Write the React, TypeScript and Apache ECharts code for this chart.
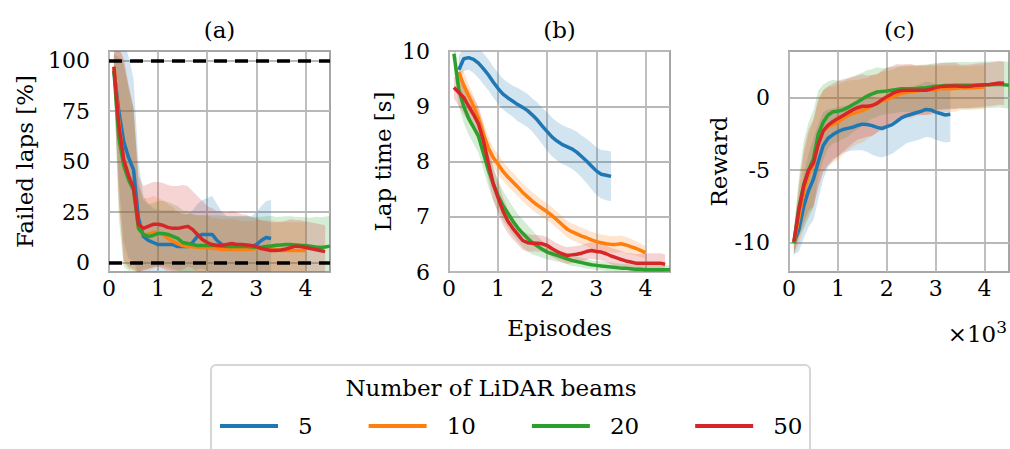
import React, { useEffect, useRef } from "react";
import * as echarts from "echarts";

// Training episodes (×10³) shared by every run
const EPISODES = [
  0.1, 0.2, 0.3, 0.4, 0.5, 0.6, 0.7, 0.8, 0.9, 1.0,
  1.1, 1.2, 1.3, 1.4, 1.5, 1.6, 1.7, 1.8, 1.9, 2.0,
  2.1, 2.2, 2.3, 2.4, 2.5, 2.6, 2.7, 2.8, 2.9, 3.0,
  3.1, 3.2, 3.3, 3.4, 3.5, 3.6, 3.7, 3.8, 3.9, 4.0,
  4.1, 4.2, 4.3, 4.4, 4.5,
];

const BEAMS = ["5", "10", "20", "50"];
const COLORS = ["#1f77b4", "#ff7f0e", "#2ca02c", "#d62728"];

const X_TICKS = [0, 1, 2, 3, 4];
const FAILED_TICKS = [0, 25, 50, 75, 100];
const LAP_TICKS = [6, 7, 8, 9, 10];
const REWARD_TICKS = [-10, -5, 0];

// (a) failed laps [%] — mean and half-width of the shaded band
const failed5 = [95, 75, 60, 52, 46, 22, 13, 11, 10, 9, 9, 9, 9, 8, 8, 8, 10, 13, 14, 14, 14, 11, 9, 8, 8, 8, 8, 8, 8, 9, 11, 12.5, 12];
const failed10 = [97, 70, 50, 42, 36, 17, 14, 14, 15, 15, 14, 12, 10.5, 9.5, 8.5, 8, 8, 7.5, 7.5, 7.5, 7, 7, 6.5, 6.5, 6.5, 6.5, 6.5, 6.5, 6.5, 7, 7, 7, 7, 6.5, 6, 6, 6, 6, 6, 6];
const failed20 = [95, 62, 48, 41, 36, 17, 14, 13, 13.5, 14.5, 14.5, 14, 13, 12, 10, 9.5, 9, 8.5, 8.5, 8.5, 8.5, 8.5, 8.3, 8, 8, 8, 8, 8, 7.8, 7.7, 7.7, 8, 8.3, 8.6, 8.8, 9, 9, 8.8, 8.6, 8.5, 8.2, 7.8, 7.5, 7.8, 8.2];
const failed50 = [97, 68, 51, 43, 37, 19, 17, 18, 19, 19, 18.5, 17.5, 17, 17, 17.5, 18, 16.5, 14, 11.5, 10, 9, 8.5, 8.5, 9, 9.5, 9, 9, 8.8, 8.5, 8, 7, 6.5, 6, 6, 6.3, 6.8, 7.5, 8.2, 8, 7.5, 7, 6.5, 6, 5.5];
const failed5Spread = [8, 35, 50, 50, 45, 28, 20, 18, 17, 17, 17, 17, 17, 17, 16, 16, 16, 16, 17, 18, 19, 18, 16, 15, 15, 15, 15, 15, 15, 16, 17, 18, 19];
const failed10Spread = [8, 38, 50, 45, 40, 22, 18, 18, 18, 17, 17, 17, 17, 16, 16, 16, 16, 16, 16, 16, 15, 15, 15, 15, 15, 15, 14, 14, 14, 14, 14, 14, 14, 14, 14, 14, 14, 14, 14, 14];
const failed20Spread = [8, 40, 50, 45, 40, 22, 17, 16, 16, 16, 16, 16, 16, 16, 16, 16, 15, 15, 15, 15, 15, 15, 15, 15, 15, 15, 15, 15, 15, 15, 15, 15, 15, 14, 14, 14, 14, 14, 14, 14, 14, 15, 15, 15, 15];
const failed50Spread = [8, 38, 50, 45, 40, 24, 21, 21, 21, 21, 21, 21, 21, 21, 21, 20, 19, 19, 19, 18, 18, 17, 17, 16, 16, 16, 15, 15, 14, 14, 14, 14, 14, 14, 14, 14, 14, 13, 13, 13, 13, 13, 13, 13];

// (b) lap time [s]
const lap5 = [null, 9.66, 9.86, 9.88, 9.85, 9.78, 9.68, 9.57, 9.44, 9.32, 9.22, 9.15, 9.09, 9.03, 8.98, 8.92, 8.84, 8.75, 8.64, 8.54, 8.44, 8.37, 8.31, 8.27, 8.23, 8.17, 8.09, 8.01, 7.92, 7.83, 7.77, 7.75, 7.73];
const lap10 = [null, 9.62, 9.38, 9.18, 9.0, 8.78, 8.5, 8.25, 8.07, 7.95, 7.82, 7.72, 7.63, 7.54, 7.44, 7.36, 7.28, 7.21, 7.15, 7.09, 7.02, 6.94, 6.86, 6.78, 6.73, 6.69, 6.65, 6.62, 6.58, 6.55, 6.53, 6.51, 6.5, 6.5, 6.51, 6.49, 6.46, 6.43, 6.39, 6.35];
const lap20 = [9.95, 9.3, 9.0, 8.78, 8.62, 8.46, 8.15, 7.85, 7.6, 7.38, 7.2, 7.06, 6.92, 6.8, 6.7, 6.61, 6.53, 6.47, 6.41, 6.36, 6.33, 6.3, 6.27, 6.24, 6.21, 6.19, 6.17, 6.15, 6.13, 6.12, 6.11, 6.1, 6.09, 6.08, 6.07, 6.07, 6.06, 6.05, 6.05, 6.04, 6.04, 6.04, 6.04, 6.04, 6.04];
const lap50 = [9.34, 9.25, 9.16, 9.0, 8.85, 8.68, 8.38, 7.98, 7.6, 7.34, 7.1, 6.92, 6.79, 6.68, 6.57, 6.53, 6.52, 6.52, 6.51, 6.48, 6.42, 6.37, 6.33, 6.3, 6.31, 6.32, 6.34, 6.37, 6.39, 6.37, 6.36, 6.33, 6.29, 6.26, 6.23, 6.2, 6.18, 6.16, 6.16, 6.16, 6.16, 6.16, 6.16, 6.14];
const lap5Spread = [null, 0.25, 0.22, 0.22, 0.25, 0.27, 0.28, 0.28, 0.28, 0.28, 0.28, 0.28, 0.28, 0.3, 0.3, 0.3, 0.3, 0.32, 0.33, 0.35, 0.35, 0.35, 0.35, 0.35, 0.36, 0.37, 0.38, 0.4, 0.42, 0.43, 0.44, 0.45, 0.45];
const lap10Spread = [null, 0.25, 0.25, 0.22, 0.2, 0.2, 0.2, 0.2, 0.18, 0.18, 0.17, 0.17, 0.17, 0.16, 0.16, 0.16, 0.16, 0.16, 0.15, 0.15, 0.15, 0.15, 0.15, 0.15, 0.15, 0.15, 0.15, 0.15, 0.15, 0.15, 0.15, 0.15, 0.15, 0.15, 0.15, 0.15, 0.14, 0.13, 0.12, 0.12];
const lap20Spread = [0.3, 0.3, 0.3, 0.3, 0.3, 0.3, 0.3, 0.3, 0.3, 0.28, 0.27, 0.26, 0.26, 0.25, 0.25, 0.24, 0.22, 0.18, 0.15, 0.13, 0.12, 0.11, 0.1, 0.1, 0.1, 0.09, 0.09, 0.09, 0.08, 0.08, 0.08, 0.08, 0.08, 0.08, 0.08, 0.08, 0.08, 0.08, 0.08, 0.08, 0.08, 0.08, 0.08, 0.08, 0.08];
const lap50Spread = [0.2, 0.25, 0.3, 0.3, 0.3, 0.3, 0.3, 0.3, 0.3, 0.28, 0.25, 0.22, 0.2, 0.18, 0.17, 0.16, 0.15, 0.15, 0.15, 0.15, 0.15, 0.15, 0.15, 0.15, 0.15, 0.15, 0.15, 0.15, 0.15, 0.15, 0.15, 0.15, 0.15, 0.15, 0.15, 0.15, 0.16, 0.16, 0.17, 0.17, 0.18, 0.18, 0.18, 0.18];

// (c) reward
const reward5 = [-10.0, -9.1, -7.5, -6.4, -5.6, -4.4, -3.3, -2.8, -2.55, -2.35, -2.2, -2.12, -2.05, -1.92, -1.83, -1.85, -1.93, -2.05, -2.13, -2.0, -1.88, -1.65, -1.4, -1.25, -1.15, -1.05, -0.95, -0.82, -0.85, -1.0, -1.1, -1.2, -1.15];
const reward10 = [-10.0, -8.3, -6.5, -5.3, -4.6, -3.0, -2.3, -2.0, -1.85, -1.7, -1.45, -1.25, -1.1, -1.0, -0.9, -0.75, -0.55, -0.4, -0.25, -0.15, 0.0, 0.15, 0.3, 0.35, 0.4, 0.45, 0.5, 0.5, 0.5, 0.55, 0.6, 0.6, 0.6, 0.62, 0.65, 0.65, 0.65, 0.68, 0.7, 0.72];
const reward20 = [-10.0, -7.6, -6.0, -5.0, -4.2, -2.5, -1.7, -1.2, -0.98, -0.95, -0.85, -0.7, -0.5, -0.3, -0.1, 0.1, 0.25, 0.38, 0.42, 0.45, 0.5, 0.55, 0.6, 0.6, 0.6, 0.62, 0.65, 0.68, 0.72, 0.78, 0.8, 0.82, 0.82, 0.84, 0.85, 0.85, 0.85, 0.85, 0.87, 0.88, 0.88, 0.9, 0.92, 0.88, 0.85];
const reward50 = [-9.9, -7.8, -6.1, -5.0, -4.5, -3.2, -2.3, -1.9, -1.65, -1.45, -1.25, -1.05, -0.85, -0.7, -0.6, -0.6, -0.55, -0.4, -0.15, 0.05, 0.25, 0.4, 0.48, 0.5, 0.5, 0.5, 0.5, 0.5, 0.58, 0.68, 0.75, 0.78, 0.8, 0.8, 0.78, 0.76, 0.78, 0.82, 0.85, 0.88, 0.9, 0.95, 1.0, 0.98];
const reward5Spread = [0.8, 1.5, 2.2, 2.5, 2.8, 2.6, 2.3, 2.0, 1.8, 1.7, 1.6, 1.6, 1.6, 1.7, 1.8, 1.9, 2.0, 2.0, 2.0, 2.0, 2.0, 2.0, 2.0, 1.9, 1.9, 1.9, 1.9, 1.9, 1.9, 1.9, 1.9, 1.9, 1.9];
const reward10Spread = [0.8, 1.8, 2.5, 2.8, 3.0, 3.0, 2.8, 2.7, 2.6, 2.6, 2.5, 2.4, 2.3, 2.2, 2.2, 2.1, 2.1, 2.0, 2.0, 2.0, 1.9, 1.9, 1.8, 1.8, 1.8, 1.7, 1.7, 1.7, 1.7, 1.6, 1.6, 1.6, 1.6, 1.6, 1.5, 1.5, 1.5, 1.5, 1.5, 1.5];
const reward20Spread = [0.8, 2.0, 3.0, 3.3, 3.3, 3.0, 2.6, 2.3, 2.2, 2.1, 2.0, 2.0, 1.9, 1.9, 1.8, 1.8, 1.7, 1.7, 1.6, 1.6, 1.6, 1.6, 1.6, 1.6, 1.6, 1.6, 1.6, 1.6, 1.6, 1.6, 1.6, 1.6, 1.6, 1.6, 1.6, 1.6, 1.6, 1.6, 1.6, 1.6, 1.6, 1.6, 1.6, 1.6, 1.6];
const reward50Spread = [0.8, 1.8, 2.5, 2.8, 3.0, 3.0, 2.8, 2.7, 2.6, 2.6, 2.5, 2.4, 2.3, 2.2, 2.2, 2.1, 2.1, 2.0, 2.0, 2.0, 1.9, 1.9, 1.8, 1.8, 1.8, 1.7, 1.7, 1.7, 1.7, 1.6, 1.6, 1.6, 1.6, 1.6, 1.5, 1.5, 1.5, 1.5, 1.5, 1.5, 1.5, 1.5, 1.5, 1.5];

const FONT = "DejaVu Serif";
const TICK_SIZE = 22;
const NAME_SIZE = 23;

type Panel = {
  title: string;
  name: string;
  nameGap: number;
  yMin: number;
  yMax: number;
  yTicks: number[];
  means: (number | null)[][];
  spreads: (number | null)[][];
};

const PANELS: Panel[] = [
  {
    title: "(a)", name: "Failed laps [%]", nameGap: 73, yMin: -4.6, yMax: 104.8, yTicks: FAILED_TICKS,
    means: [failed5, failed10, failed20, failed50],
    spreads: [failed5Spread, failed10Spread, failed20Spread, failed50Spread],
  },
  {
    title: "(b)", name: "Lap time [s]", nameGap: 55, yMin: 6, yMax: 10, yTicks: LAP_TICKS,
    means: [lap5, lap10, lap20, lap50],
    spreads: [lap5Spread, lap10Spread, lap20Spread, lap50Spread],
  },
  {
    title: "(c)", name: "Reward", nameGap: 56, yMin: -12, yMax: 3.2, yTicks: REWARD_TICKS,
    means: [reward5, reward10, reward20, reward50],
    spreads: [reward5Spread, reward10Spread, reward20Spread, reward50Spread],
  },
];

const GRID_LEFTS = [109, 449, 789];
const GRID_TOP = 51;
const GRID_SIZE = 221;

function meanPoints(mean: (number | null)[]) {
  const pts: number[][] = [];
  mean.forEach((v, i) => {
    if (v != null) pts.push([EPISODES[i], v]);
  });
  return pts;
}

function bandRows(mean: (number | null)[], spread: (number | null)[]) {
  const rows: number[][] = [];
  mean.forEach((v, i) => {
    const s = spread[i];
    if (v != null && s != null) rows.push([EPISODES[i], v - s, v + s]);
  });
  return rows;
}

function buildOption() {
  const grid = GRID_LEFTS.map((left, p) => ({
    left,
    top: GRID_TOP,
    width: p === 2 ? 220 : GRID_SIZE,
    height: GRID_SIZE,
    show: true,
    borderColor: "#a6a6a6",
    borderWidth: 2,
    backgroundColor: "transparent",
  }));

  const splitLine = { show: true, lineStyle: { color: "#b8b8b8", width: 1.8 } };
  const labelStyle = { fontSize: TICK_SIZE, fontFamily: FONT, color: "#000" };

  const xAxis = PANELS.map((_, p) => ({
    gridIndex: p,
    type: "value",
    min: 0,
    max: 4.5,
    axisLine: { show: false },
    axisTick: { show: false, customValues: X_TICKS },
    axisLabel: { ...labelStyle, customValues: X_TICKS, margin: 5 },
    splitLine,
    name: p === 1 ? "Episodes" : "",
    nameLocation: "middle",
    nameGap: 44,
    nameTextStyle: { fontSize: NAME_SIZE, fontFamily: FONT, color: "#000" },
  }));

  const yAxis = PANELS.map((panel, p) => ({
    gridIndex: p,
    type: "value",
    min: panel.yMin,
    max: panel.yMax,
    axisLine: { show: false },
    axisTick: { show: false, customValues: panel.yTicks },
    axisLabel: { ...labelStyle, customValues: panel.yTicks, margin: 19 },
    splitLine,
    name: panel.name,
    nameLocation: "middle",
    nameGap: panel.nameGap,
    nameTextStyle: { fontSize: NAME_SIZE, fontFamily: FONT, color: "#000" },
  }));

  const series: any[] = [];
  PANELS.forEach((panel, p) => {
    // shaded spread bands first, so every mean line sits above them
    panel.means.forEach((mean, k) => {
      const rows = bandRows(mean, panel.spreads[k]);
      series.push({
        type: "custom",
        xAxisIndex: p,
        yAxisIndex: p,
        clip: true,
        silent: true,
        z: 2,
        encode: { x: 0, y: [1, 2] },
        data: rows,
        renderItem: (params: any, api: any) => {
          if (params.dataIndex !== 0) return null;
          const upper = rows.map((r) => api.coord([r[0], r[2]]));
          const lower = rows.map((r) => api.coord([r[0], r[1]])).reverse();
          return {
            type: "polygon",
            shape: { points: upper.concat(lower) },
            style: { fill: COLORS[k], opacity: 0.2 },
          };
        },
      });
    });
    panel.means.forEach((mean, k) => {
      const s: any = {
        type: "line",
        name: BEAMS[k],
        xAxisIndex: p,
        yAxisIndex: p,
        data: meanPoints(mean),
        showSymbol: false,
        symbol: "none",
        color: COLORS[k],
        lineStyle: { color: COLORS[k], width: 3.5 },
        z: 3,
        silent: true,
      };
      if (p === 0 && k === 0) {
        // reference levels at 0 % and 100 %
        s.markLine = {
          silent: true,
          symbol: "none",
          label: { show: false },
          lineStyle: { color: "#000", type: [13, 8], width: 3.5 },
          data: [{ yAxis: 0 }, { yAxis: 100 }],
        };
      }
      series.push(s);
    });
  });

  const titles = PANELS.map((panel, p) => ({
    type: "text",
    x: GRID_LEFTS[p] + GRID_SIZE / 2,
    y: 30,
    style: {
      text: panel.title,
      fontSize: NAME_SIZE,
      fontFamily: FONT,
      fill: "#000",
      align: "center",
      verticalAlign: "middle",
    },
  }));

  return {
    animation: false,
    backgroundColor: "#fff",
    textStyle: { fontFamily: FONT },
    grid,
    xAxis,
    yAxis,
    series,
    legend: {
      data: BEAMS.map((name) => ({ name, icon: "rect" })),
      left: 220,
      top: 412,
      padding: 0,
      itemWidth: 58,
      itemHeight: 4,
      itemGap: 56,
      selectedMode: false,
      z: 10,
      textStyle: {
        fontSize: NAME_SIZE,
        fontFamily: FONT,
        color: "#000",
        padding: [0, 0, 0, 15],
        lineHeight: 28,
      },
    },
    graphic: [
      ...titles,
      {
        type: "text",
        right: 3,
        top: 318,
        style: {
          text: "{m|×10}{s|3}",
          fill: "#000",
          rich: {
            m: { fontSize: NAME_SIZE, fontFamily: FONT, fill: "#000" },
            s: { fontSize: 17, fontFamily: FONT, fill: "#000", padding: [0, 0, 14, 0] },
          },
        },
      },
      {
        type: "rect",
        z: 1,
        shape: { x: 211, y: 365, width: 599, height: 110, r: 5 },
        style: { fill: "#fff", stroke: "#d6d6d6", lineWidth: 2 },
      },
      {
        type: "text",
        z: 2,
        x: 491,
        y: 388,
        style: {
          text: "Number of LiDAR beams",
          fontSize: NAME_SIZE,
          fontFamily: FONT,
          fill: "#000",
          align: "center",
          verticalAlign: "middle",
        },
      },
    ],
  };
}

export default function App() {
  const ref = useRef<HTMLDivElement>(null);

  useEffect(() => {
    if (!ref.current) return;
    const chart = echarts.init(ref.current, undefined, { renderer: "svg" });
    chart.setOption(buildOption() as any);
    return () => chart.dispose();
  }, []);

  return (
    <div
      ref={ref}
      style={{ position: "absolute", left: 0, top: 0, width: 1010, height: 449 }}
    />
  );
}
